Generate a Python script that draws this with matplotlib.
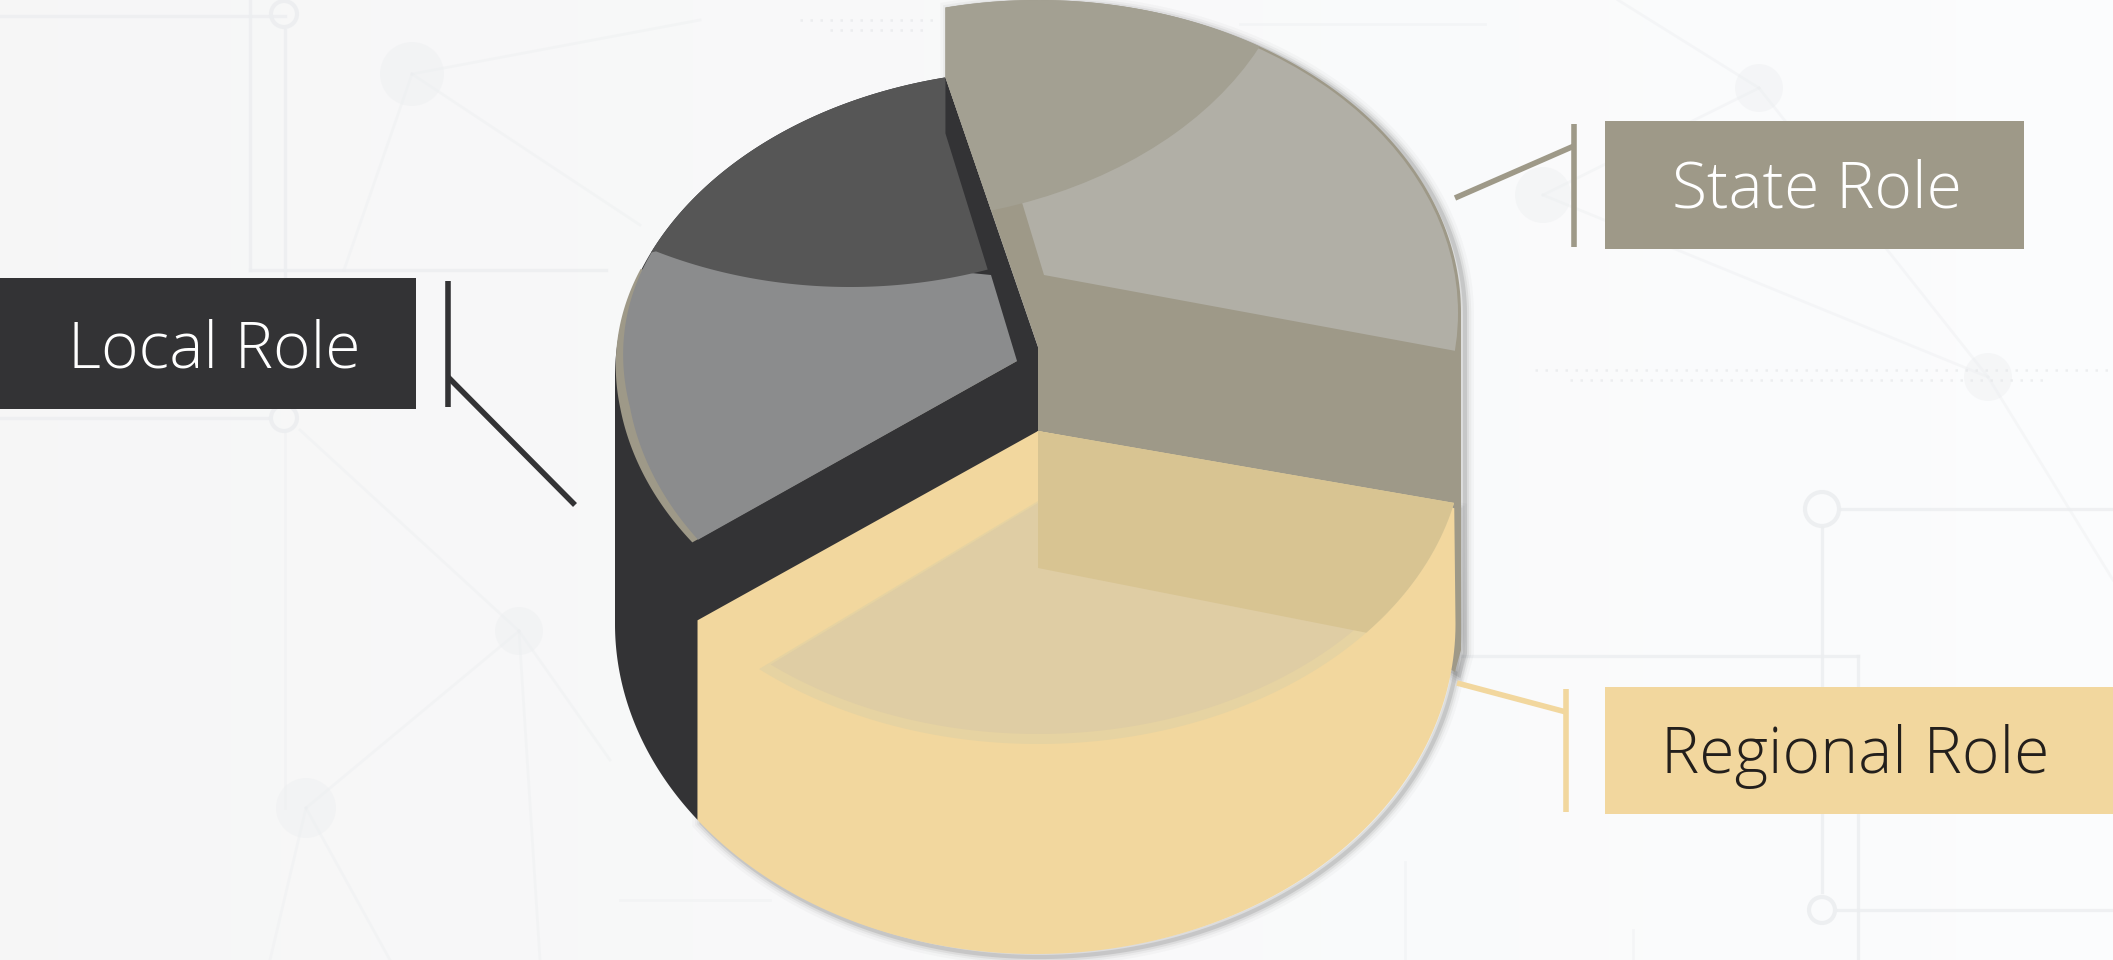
"""Role split drawn as an exploded 3D pie with three labelled call-out boxes."""

import matplotlib

matplotlib.use("Agg")
import matplotlib.pyplot as plt
import numpy as np
from matplotlib.patches import Circle, Ellipse, Polygon, Rectangle

CATEGORIES = ["Regional Role", "Local Role", "State Role"]
SHARES = [36.0, 31.6, 32.4]
START_ANGLE = 14.0

TAN = "#9e9988"
TAN_LIGHT = "#b1afa6"
TAN_TOP = "#a3a092"
BLACK = "#333335"
GRAY = "#8b8c8d"
GRAY_DARK = "#565656"
YELLOW = "#f2d79e"
FLOOR = "#dfcda4"
FLOOR_RIM = "#e6d3a2"
FLOOR_WALL = "#d8c492"
FAINT = "#eceef0"

W, H = 2113, 960

plt.rcParams["font.family"] = ["Open Sans", "DejaVu Sans"]


def arc(cx, cy, rx, ry, t0, t1, n=120):
    t = np.radians(np.linspace(t0, t1, n))
    return np.column_stack([cx + rx * np.cos(t), cy + ry * np.sin(t)])


def sector(apex, rx, ry, a0, a1, reach=1.6):
    """Wedge fan from apex, long enough to be trimmed by a clip ellipse."""
    return np.vstack([[apex], arc(apex[0], apex[1], rx * reach, ry * reach, a0, a1)])


def blended_rim(t0, t1, knots, rx_vals, n=120):
    """Local rim whose inset eases out as it climbs toward the back of the wedge."""
    deg = np.linspace(t0, t1, n)
    t = np.radians(deg)
    rx = np.interp(deg, knots, rx_vals)
    cy = np.interp(deg, knots, [364, 364, 376])
    ry = np.interp(deg, knots, [311, 311, 306])
    return np.column_stack([1038 + rx * np.cos(t), cy + ry * np.sin(t)])


def poly(ax, pts, color, zorder=3, clip=None):
    patch = Polygon(pts, closed=True, fc=color, ec="none", zorder=zorder)
    ax.add_patch(patch)
    if clip is not None:
        patch.set_clip_path(clip)
    return patch


def draw_backdrop(ax):
    shade = np.linspace(0, 1, 256)[None, :]
    rgb = np.dstack([0.966 + 0.020 * shade, 0.966 + 0.024 * shade, 0.968 + 0.026 * shade])
    ax.imshow(rgb, extent=(0, W, H, 0), aspect="auto", zorder=0)

    # rectilinear circuit traces
    traces = [
        ((0, 16), (285, 16)), ((250, 0), (250, 270)), ((250, 270), (606, 270)),
        ((285, 30), (285, 405)), ((0, 418), (270, 418)),
        ((1840, 509), (2113, 509)), ((1822, 527), (1822, 892)), ((1462, 656), (1858, 656)),
        ((1858, 656), (1858, 960)), ((1838, 910), (2113, 910)),
    ]
    for (x0, y0), (x1, y1) in traces:
        ax.plot([x0, x1], [y0, y1], color=FAINT, lw=2.4, alpha=0.8, zorder=1)

    # thin network links between the blurred nodes
    links = [
        ((412, 74), (344, 270)), ((412, 74), (700, 20)), ((412, 74), (640, 225)),
        ((300, 430), (519, 631)), ((519, 631), (306, 808)), ((519, 631), (610, 760)),
        ((519, 631), (540, 960)), ((306, 808), (390, 960)), ((306, 808), (270, 960)),
        ((285, 430), (285, 808)), ((1759, 88), (1543, 195)), ((1543, 195), (1988, 377)),
        ((1988, 377), (2113, 580)), ((1759, 88), (1618, 0)), ((1759, 88), (1988, 377)),
        ((1240, 24), (1485, 24)), ((620, 900), (770, 900)), ((1405, 862), (1405, 960)),
        ((1633, 930), (1633, 960)),
    ]
    for (x0, y0), (x1, y1) in links:
        ax.plot([x0, x1], [y0, y1], color=FAINT, lw=2.0, alpha=0.4, zorder=1)

    for x, y, r in [(412, 74, 32), (519, 631, 24), (306, 808, 30),
                    (1988, 377, 24), (1759, 88, 24), (1543, 195, 28)]:
        ax.add_patch(Circle((x, y), r, fc=FAINT, ec="none", alpha=0.4, zorder=1))
    for x, y, r in [(284, 14, 13), (284, 418, 13), (1822, 509, 17), (1822, 910, 13)]:
        ax.add_patch(Circle((x, y), r, fc="none", ec=FAINT, lw=3, alpha=0.9, zorder=1))

    # stippled traces
    for y, x0, x1 in [(370, 1535, 2113), (380, 1570, 2050), (20, 800, 940), (30, 830, 930)]:
        ax.plot([x0, x1], [y, y], color="#e4e6e8", lw=1.8, ls=(0, (1, 3)), alpha=0.6, zorder=1)


def draw_pie(ax):
    fr = np.cumsum([0.0] + SHARES) / sum(SHARES) * 360 + START_ANGLE
    a_right, a_left, a_back = fr[0], fr[1], fr[2]

    local_rim = (1038, 376, 423, 306)
    state_rim = (1038, 313, 423, 313)
    base = (1038, 624, 423, 330)
    reg_base = (1035.5, 624, 420, 330)
    reg_apex = np.array([1038, 431])
    state_kink = np.array([1038, 347])

    local_top = arc(*local_rim, a_back, a_back, 1)[0]
    state_top = arc(*state_rim, a_back, a_back, 1)[0]
    reg_right = reg_apex + [429 * np.cos(np.radians(a_right)), 319 * np.sin(np.radians(a_right))]
    reg_left = reg_apex + [423 * np.cos(np.radians(a_left)), 319 * np.sin(np.radians(a_left))]

    black = np.vstack([arc(*local_rim, a_back, 180), arc(*base, 180, a_left), [reg_apex], [state_kink]])
    tan = np.vstack([arc(*state_rim, a_back, 360), [[1461, 650], [1455, 672]],
                     [reg_apex], [state_kink], [local_top]])
    yellow = np.vstack([[reg_apex], [reg_right], arc(*reg_base, 0, a_left), [reg_left]])

    # soft drop shadow, mostly toward the lower right
    for lw, alpha in [(13, 0.03), (9, 0.05), (6, 0.08), (3, 0.14)]:
        for pts in (tan, yellow):
            ax.add_patch(Polygon(pts + [4, 3], closed=True, fc="none", ec="#444444",
                                 lw=lw, alpha=alpha, zorder=2))

    # local wedge: thin tan lip, gray face, darker back part
    poly(ax, black, BLACK)
    face_apex = np.array([1017, 361])
    knots = [145, 172, 206]
    poly(ax, np.vstack([[face_apex], blended_rim(145, 200, knots, [422, 422, 423])]), TAN, zorder=4)
    poly(ax, np.vstack([[face_apex], blended_rim(145.6, 206, knots, [412, 412, 422.5]),
                        [[991, 275]]]), GRAY, zorder=5)
    back = arc(850, -33, 423, 320, 71, 117.3)
    dark = np.vstack([arc(*local_rim, 203.8, a_back), [local_top + [0, 56]], back])
    poly(ax, dark, GRAY_DARK, zorder=6)

    # state wedge
    tan_patch = poly(ax, np.vstack([tan, [state_top]]), TAN, zorder=7)
    face = Ellipse((1038, 313), 2 * 420, 2 * 311, transform=ax.transData)
    poly(ax, sector((1044, 275), 423, 313, a_back, a_right + 360), TAN_LIGHT, zorder=8, clip=face)
    cap = Ellipse((876, -81), 2 * 423, 2 * 303, fc=TAN_TOP, ec="none", zorder=9)
    ax.add_patch(cap)
    cap.set_clip_path(tan_patch)

    # regional wedge, floor seen through the top
    poly(ax, yellow, YELLOW, zorder=10)
    poly(ax, np.vstack([arc(1038, 437, 426, 307, 12.4, 130.9), [[1038, 501]], [[1038, 431]]]),
         FLOOR_RIM, zorder=11)
    poly(ax, np.vstack([arc(1038, 437, 416, 297, 14, 130), [[1038, 503]]]), FLOOR, zorder=12)
    poly(ax, np.vstack([[reg_apex], arc(1038, 437, 426, 307, 12.4, 39.6), [[1038, 568]]]),
         FLOOR_WALL, zorder=13)


def draw_callout(ax, name, box, tick, leader, color, text_color, text_x, baseline):
    x0, y0, x1, y1 = box
    ax.add_patch(Rectangle((x0, y0), x1 - x0, y1 - y0, fc=color, ec="none", zorder=15))
    ax.plot([tick[0], tick[0]], [tick[1], tick[2]], color=color, lw=4, solid_capstyle="butt", zorder=15)
    ax.plot(*zip(*leader), color=color, lw=4, solid_capstyle="butt", zorder=15)
    ax.text(text_x, baseline, name, color=text_color, fontsize=46.3, fontweight="light",
            ha="center", va="baseline", zorder=16)


def main():
    fig = plt.figure(figsize=(W / 100, H / 100), dpi=100)
    ax = fig.add_axes([0, 0, 1, 1])
    draw_backdrop(ax)
    draw_pie(ax)

    draw_callout(ax, CATEGORIES[1], (0, 278, 416, 409), (448, 281, 407),
                 [(448, 377), (575, 505)], BLACK, "white", 214, 368)
    draw_callout(ax, CATEGORIES[2], (1605, 121, 2024, 249), (1574, 124, 247),
                 [(1574, 146), (1455, 198)], TAN, "white", 1817, 207)
    draw_callout(ax, CATEGORIES[0], (1605, 687, 2113, 814), (1566, 689, 812),
                 [(1566, 712), (1457, 683)], YELLOW, "#231f1c", 1855, 773)

    ax.set_xlim(0, W)
    ax.set_ylim(H, 0)
    ax.axis("off")
    fig.savefig("out.png", dpi=100)
    plt.close(fig)


if __name__ == "__main__":
    main()
